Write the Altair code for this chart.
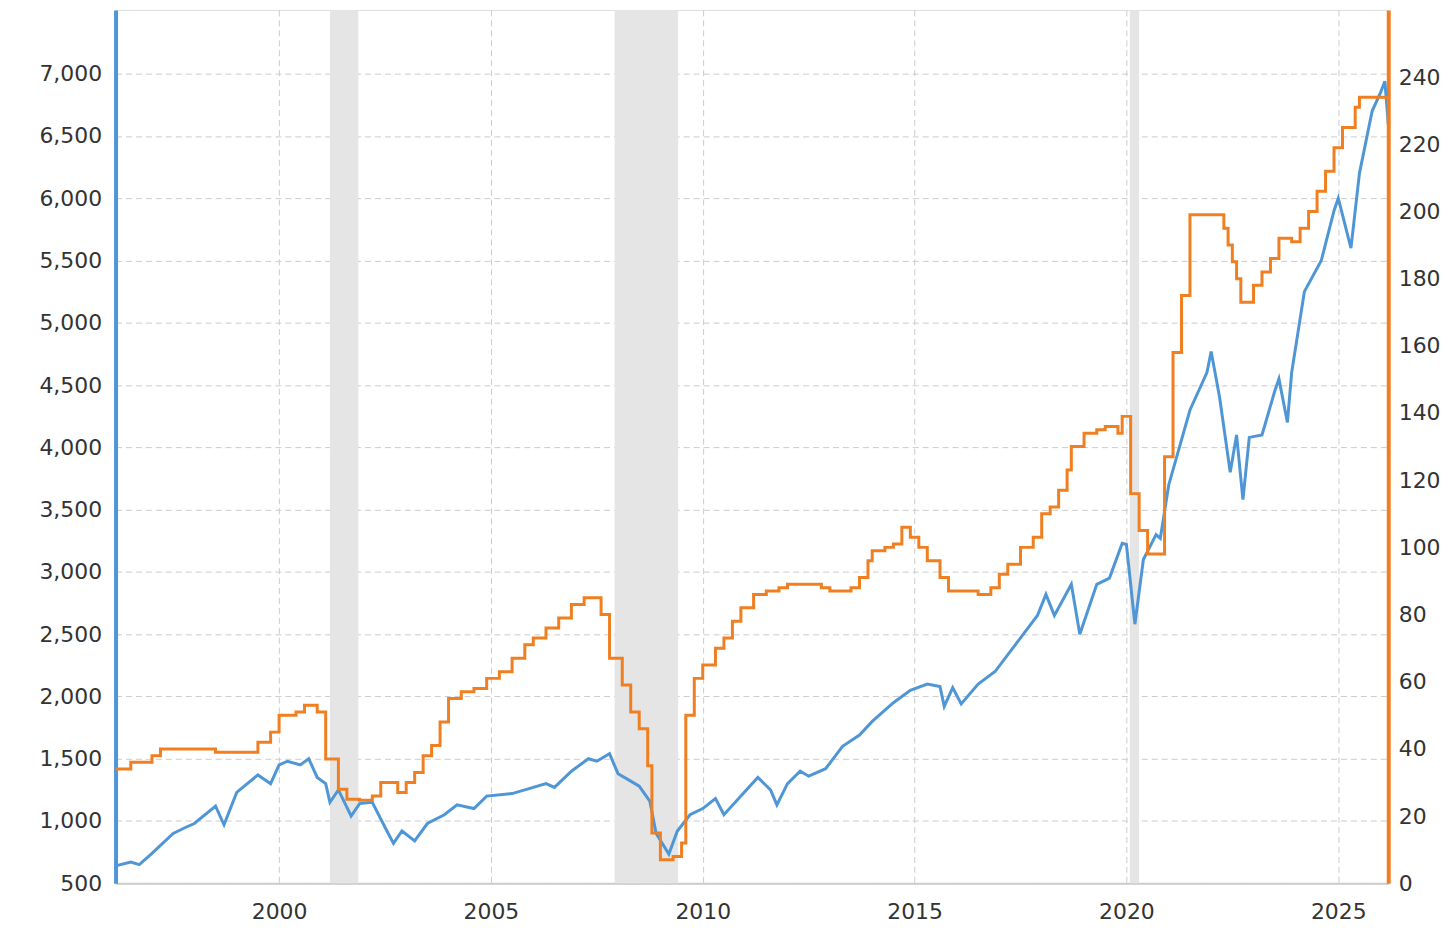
import altair as alt
import pandas as pd

sp_t = [1996.14,1996.5,1996.7,1997.0,1997.5,1997.8,1998.0,1998.5,1998.7,1999.0,1999.5,1999.8,2000.0,2000.2,2000.5,2000.7,2000.9,2001.1,2001.2,2001.4,2001.7,2001.9,2002.2,2002.5,2002.7,2002.9,2003.2,2003.5,2003.9,2004.2,2004.6,2004.9,2005.5,2005.9,2006.3,2006.5,2006.9,2007.3,2007.5,2007.8,2008.0,2008.3,2008.5,2008.75,2008.9,2009.2,2009.4,2009.7,2010.0,2010.3,2010.5,2010.9,2011.3,2011.6,2011.75,2012.0,2012.3,2012.5,2012.9,2013.3,2013.7,2014.0,2014.5,2014.9,2015.3,2015.6,2015.7,2015.9,2016.1,2016.5,2016.9,2017.3,2017.9,2018.1,2018.3,2018.7,2018.9,2019.3,2019.6,2019.9,2020.0,2020.2,2020.4,2020.7,2020.8,2021.0,2021.5,2021.9,2022.0,2022.2,2022.45,2022.6,2022.75,2022.9,2023.2,2023.5,2023.6,2023.8,2023.9,2024.2,2024.6,2024.9,2025.0,2025.15,2025.3,2025.5,2025.8,2026.0,2026.1,2026.18]
sp_v = [640,670,650,740,900,950,980,1120,970,1230,1370,1300,1450,1480,1450,1500,1350,1300,1150,1250,1040,1140,1150,950,820,920,840,980,1050,1130,1100,1200,1220,1260,1300,1270,1400,1500,1480,1540,1380,1320,1280,1160,900,735,920,1050,1100,1180,1050,1200,1350,1250,1130,1300,1400,1360,1420,1600,1690,1800,1950,2050,2100,2080,1920,2070,1940,2100,2200,2380,2650,2820,2650,2900,2500,2900,2950,3230,3220,2580,3100,3300,3270,3700,4300,4600,4770,4400,3800,4100,3580,4080,4100,4450,4550,4200,4600,5250,5500,5900,6000,5800,5600,6200,6700,6850,6940,6600]

eps_t = [1996.14,1996.5,1997.0,1997.2,1998.0,1998.5,1999.0,1999.5,1999.8,2000.0,2000.4,2000.6,2000.9,2001.1,2001.4,2001.6,2001.9,2002.2,2002.4,2002.6,2002.8,2003.0,2003.2,2003.4,2003.6,2003.8,2004.0,2004.3,2004.6,2004.9,2005.2,2005.5,2005.8,2006.0,2006.3,2006.6,2006.9,2007.2,2007.6,2007.8,2008.1,2008.3,2008.5,2008.7,2008.8,2009.0,2009.3,2009.5,2009.6,2009.8,2010.0,2010.3,2010.5,2010.7,2010.9,2011.2,2011.5,2011.8,2012.0,2012.5,2012.8,2013.0,2013.5,2013.7,2013.9,2014.0,2014.3,2014.5,2014.7,2014.9,2015.1,2015.3,2015.6,2015.8,2016.0,2016.5,2016.8,2017.0,2017.2,2017.5,2017.8,2018.0,2018.2,2018.4,2018.6,2018.7,2019.0,2019.3,2019.5,2019.8,2019.9,2020.1,2020.3,2020.5,2020.8,2020.9,2021.1,2021.3,2021.5,2022.3,2022.4,2022.5,2022.6,2022.7,2023.0,2023.2,2023.4,2023.6,2023.9,2024.1,2024.3,2024.5,2024.7,2024.9,2025.1,2025.4,2025.5,2025.7,2026.1,2026.18]
eps_v = [34,36,38,40,40,39,39,42,45,50,51,53,51,37,28,25,24.7,26,30,30,27,30,33,38,41,48,55,57,58,61,63,67,71,73,76,79,83,85,80,67,59,51,46,35,15,7,8,12,50,61,65,70,73,78,82,86,87,88,89,89,88,87,88,91,96,99,100,101,106,103,100,96,91,87,87,86,88,92,95,100,103,110,112,117,123,130,134,135,136,134,139,116,105,98,98,127,158,175,199,195,190,185,180,173,178,182,186,192,191,195,200,206,212,219,225,231,234,234,234,226]

rec_start = [2001.2, 2007.92, 2020.08]
rec_end = [2001.87, 2009.42, 2020.3]

sp = pd.DataFrame({"t": sp_t, "v": sp_v})
eps = pd.DataFrame({"t": eps_t, "v": eps_v})
rec = pd.DataFrame({"s": rec_start, "e": rec_end})

xdom = [1996.14, 2026.18]
xs = alt.Scale(domain=xdom, nice=False, zero=False)
xax = alt.Axis(values=[2000,2005,2010,2015,2020,2025], format="d", title=None,
               grid=True, gridDash=[6,4], gridColor="#cccccc", ticks=False,
               labelFontSize=22, labelColor="#333", labelPadding=18, domainColor="#cccccc", domainWidth=2)

rects = alt.Chart(rec).mark_rect(color="#e5e5e5").encode(
    x=alt.X("s:Q", scale=xs, axis=xax), x2="e:Q")

blue = alt.Chart(sp).mark_line(color="#4f96d6", strokeWidth=3).encode(
    x=alt.X("t:Q", scale=xs),
    y=alt.Y("v:Q", scale=alt.Scale(domain=[500, 7512], nice=False, zero=False),
            axis=alt.Axis(values=list(range(500, 7001, 500)), format=",d", title=None, grid=True,
                          gridDash=[6,4], gridColor="#cccccc", ticks=False, labelFontSize=22,
                          labelColor="#333", domainColor="#4f96d6", domainWidth=4, labelPadding=14)))

orange = alt.Chart(eps).mark_line(color="#f07f22", strokeWidth=3, interpolate="step-after").encode(
    x=alt.X("t:Q", scale=xs),
    y=alt.Y("v:Q", scale=alt.Scale(domain=[0, 260], nice=False),
            axis=alt.Axis(orient="right", values=list(range(0, 241, 20)), title=None, grid=False,
                          ticks=False, labelFontSize=22, labelColor="#333", domainColor="#f07f22",
                          domainWidth=4, labelPadding=10)))

left = alt.layer(rects, blue)
chart = alt.layer(left, orange).resolve_scale(y="independent").properties(
    width=1278, height=877, autosize=alt.AutoSizeParams(type="none"),
    padding={"left": 108, "top": 0, "right": 60, "bottom": 50}
).configure_view(stroke=None).configure(font="DejaVu Sans")

chart.save("out.html", embed_options={"renderer": "svg", "actions": False})
